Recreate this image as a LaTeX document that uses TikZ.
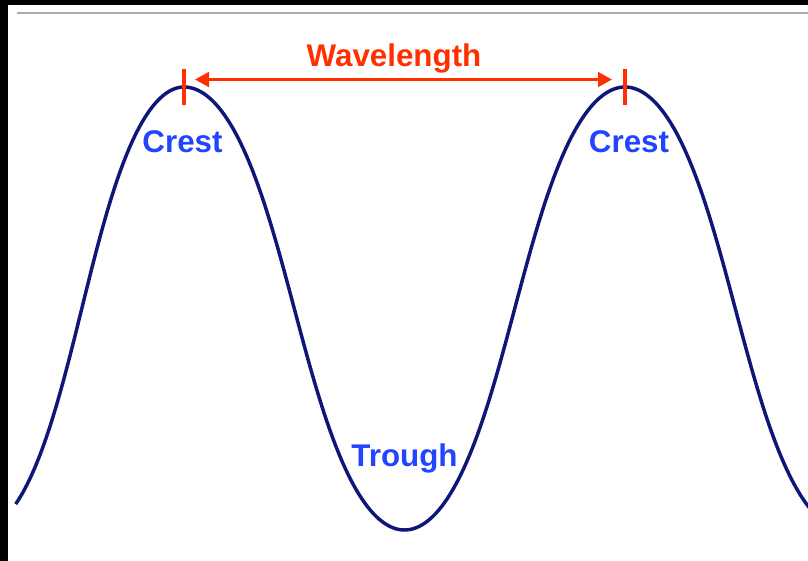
\documentclass[tikz,border=0pt]{standalone}
\usepackage{fontspec}
\setmainfont{Liberation Sans}
\usetikzlibrary{arrows.meta}
\definecolor{wavenavy}{RGB}{14,22,120}
\definecolor{lblblue}{RGB}{32,68,255}
\definecolor{wlred}{RGB}{255,48,0}
\definecolor{rulegray}{RGB}{170,170,170}
\tikzset{
  wavestyle/.style={draw=wavenavy,line width=2.6pt,line join=round},
  lbl/.style={text=lblblue,font=\fontsize{23.5}{28}\selectfont\bfseries,inner sep=0pt,anchor=base},
  wltext/.style={text=wlred,font=\fontsize{23.5}{28}\selectfont\bfseries,inner sep=0pt,anchor=base},
  tickmark/.style={draw=wlred,line width=3pt},
  wlarrow/.style={draw=wlred,line width=2.25pt,{Triangle[length=10.5pt,width=11pt]}-{Triangle[length=10.5pt,width=11pt]}}
}
\begin{document}
\begin{tikzpicture}[x=0.75pt,y=-0.75pt]
\useasboundingbox (0,0) rectangle (808,561);
\fill[white] (0,0) rectangle (808,561);
% black frame bands
\fill[black] (0,0) rectangle (808,5);
\fill[black] (0,0) rectangle (8,561);
% gray rule
\draw[rulegray,line width=0.9pt] (17,13) -- (808,13);
% wave
\begin{scope}
\clip (8,14) rectangle (808,561);
\draw[wavestyle] plot[domain=-152:0,samples=77,smooth,variable=\t]
  ({184+0.927*1.225*(\t+4.58*sin(2*\t))},{308.5-221.5*cos(\t)});
\draw[wavestyle] plot[domain=0:520,samples=261,smooth,variable=\t]
  ({184+1.225*(\t+4.58*sin(2*\t))},{308.5-221.5*cos(\t)});
\end{scope}
% ticks
\coordinate (t1top) at (184,69);
\coordinate (t1bot) at (184,105);
\coordinate (t2top) at (625,69);
\coordinate (t2bot) at (625,105);
\draw[tickmark] (t1top) -- (t1bot);
\draw[tickmark] (t2top) -- (t2bot);
% wavelength arrow
\coordinate (a1) at (195,79.5);
\coordinate (a2) at (612,79.5);
\draw[wlarrow] (a1) -- (a2);
% labels
\node[wltext] (wl) at (394,66.7) {Wavelength};
\node[lbl] (crest1) at (182.5,152.5) {Crest};
\node[lbl] (crest2) at (629,152.5) {Crest};
\node[lbl] (trough) at (404.5,466) {Trough};
\end{tikzpicture}
\end{document}
